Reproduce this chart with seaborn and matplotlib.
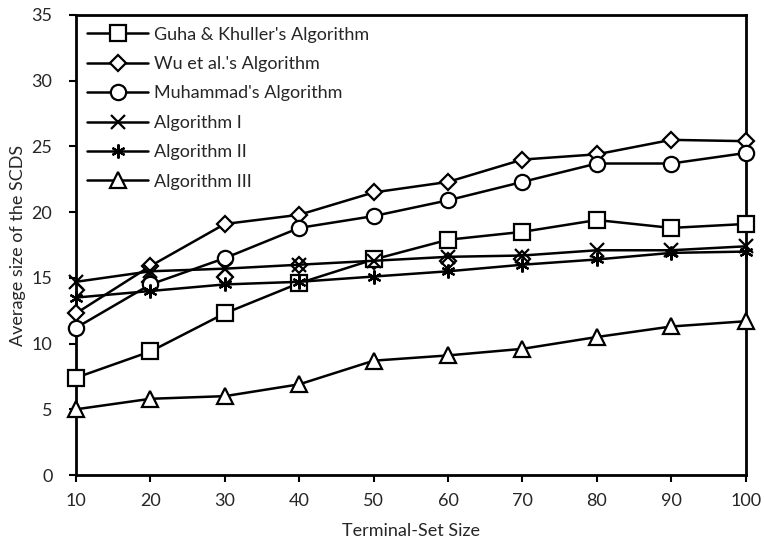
import matplotlib
matplotlib.use("Agg")
import matplotlib.pyplot as plt
import seaborn as sns

terminal_size = [10, 20, 30, 40, 50, 60, 70, 80, 90, 100]

guha_khuller = [7.4, 9.4, 12.3, 14.6, 16.4, 17.9, 18.5, 19.4, 18.8, 19.1]
wu_et_al = [12.3, 15.9, 19.1, 19.8, 21.5, 22.3, 24.0, 24.4, 25.5, 25.4]
muhammad = [11.2, 14.5, 16.5, 18.8, 19.7, 20.9, 22.3, 23.7, 23.7, 24.5]
algorithm_1 = [14.7, 15.5, 15.7, 16.0, 16.3, 16.6, 16.7, 17.1, 17.1, 17.4]
algorithm_2 = [13.5, 14.0, 14.5, 14.7, 15.1, 15.5, 16.0, 16.4, 16.9, 17.0]
algorithm_3 = [5.0, 5.8, 6.0, 6.9, 8.7, 9.1, 9.6, 10.5, 11.3, 11.7]

# stray diamond markers visible in the original (no line, not in legend)
stray_x = [10, 20, 30, 40, 50, 60, 70]
stray_y = [14.1, 14.7, 15.1, 16.0, 16.3, 16.3, 16.4]

series = [
    ("Guha & Khuller's Algorithm", guha_khuller, "s", 11),
    ("Wu et al.'s Algorithm", wu_et_al, "D", 8.5),
    ("Muhammad's Algorithm", muhammad, "o", 11),
    ("Algorithm I", algorithm_1, "x", 10),
    ("Algorithm II", algorithm_2, (6, 2, 0), 10),
    ("Algorithm III", algorithm_3, "^", 11),
]

sns.set_style("ticks")
plt.rcParams["font.family"] = ["Lato", "DejaVu Sans"]

fig = plt.figure(figsize=(7.64, 5.43), dpi=100)
ax = fig.add_axes([0.0995, 0.1252, 0.8765, 0.8472])

ax.plot(stray_x, stray_y, linestyle="none", marker="D", markersize=8,
        markerfacecolor="none", markeredgecolor="black", markeredgewidth=1.6,
        zorder=2)

for name, vals, mk, ms in series:
    sns.lineplot(x=terminal_size, y=vals, ax=ax, color="black", linewidth=1.8,
                 marker=mk, markersize=ms, markerfacecolor="white",
                 markeredgecolor="black", markeredgewidth=1.6,
                 label=name, clip_on=False, zorder=3)

ax.set_xlim(10, 100)
ax.set_ylim(0, 35)
ax.set_xticks(terminal_size)
ax.set_yticks(range(0, 36, 5))
ax.set_xlabel("Terminal-Set Size", fontsize=13, labelpad=10)
ax.set_ylabel("Average size of the SCDS", fontsize=13, labelpad=4)
ax.tick_params(axis="both", labelsize=13, width=1.5, length=5, color="black")
ax.tick_params(axis="x", pad=8)
ax.tick_params(axis="y", pad=12)
for s in ax.spines.values():
    s.set_linewidth(2)
    s.set_color("black")

leg = ax.legend(loc="upper left", frameon=False, fontsize=13, handlelength=3.4,
                labelspacing=0.74, handletextpad=0.3, borderaxespad=0.2,
                bbox_to_anchor=(0.0, 0.998))

fig.savefig("out.png", dpi=100)
